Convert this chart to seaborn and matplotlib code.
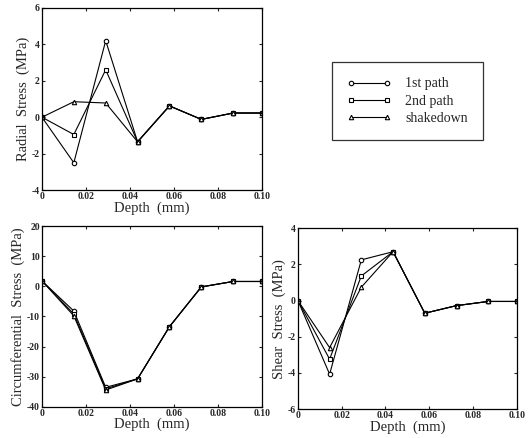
import pandas as pd
import matplotlib
matplotlib.use('Agg')
import matplotlib.pyplot as plt
import seaborn as sns

depth = [0, 0.0145, 0.029, 0.0435, 0.058, 0.0725, 0.087, 0.1]
paths = ['1st path', '2nd path', 'shakedown']

radial_1st = [0, -2.5, 4.2, -1.35, 0.62, -0.12, 0.23, 0.23]
radial_2nd = [0, -0.95, 2.6, -1.35, 0.62, -0.12, 0.23, 0.23]
radial_shake = [0, 0.85, 0.78, -1.35, 0.62, -0.12, 0.23, 0.23]

circ_1st = [1.8, -8.2, -33.5, -30.7, -13.4, -0.2, 1.6, 1.6]
circ_2nd = [1.8, -9.2, -34.0, -30.7, -13.4, -0.2, 1.6, 1.6]
circ_shake = [1.8, -9.8, -34.4, -30.7, -13.4, -0.2, 1.6, 1.6]

shear_1st = [0, -4.07, 2.25, 2.7, -0.7, -0.28, -0.05, -0.05]
shear_2nd = [0, -3.24, 1.36, 2.7, -0.7, -0.28, -0.05, -0.05]
shear_shake = [0, -2.6, 0.74, 2.7, -0.7, -0.28, -0.05, -0.05]

markers = {'1st path': 'o', '2nd path': 's', 'shakedown': '^'}


def make_df(a, b, c):
    rows = []
    for name, vals in zip(paths, [a, b, c]):
        for x, y in zip(depth, vals):
            rows.append({'Depth': x, 'Stress': y, 'path': name})
    return pd.DataFrame(rows)


sns.set_style('ticks')
plt.rcParams['font.family'] = ['Liberation Serif', 'DejaVu Serif']
plt.rcParams['xtick.direction'] = 'in'
plt.rcParams['ytick.direction'] = 'in'

fig = plt.figure(figsize=(5.31, 4.38), dpi=100)
ax1 = fig.add_axes([0.079, 0.566, 0.414, 0.416])
ax2 = fig.add_axes([0.079, 0.071, 0.414, 0.413])
ax3 = fig.add_axes([0.561, 0.066, 0.412, 0.413])


def draw(ax, df, ylim, yticks, ylabel):
    for name in paths:
        sub = df[df.path == name]
        sns.lineplot(x='Depth', y='Stress', data=sub, ax=ax, color='black',
                     marker=markers[name], markersize=3.2, linewidth=0.8,
                     markerfacecolor='white', markeredgecolor='black',
                     markeredgewidth=0.8, label=name, legend=False)
    ax.set_xlim(0, 0.1)
    ax.set_ylim(*ylim)
    ax.set_yticks(yticks)
    ax.set_yticklabels([str(t) for t in yticks])
    ax.set_xticks([0, 0.02, 0.04, 0.06, 0.08, 0.10])
    ax.set_xticklabels(['0', '0.02', '0.04', '0.06', '0.08', '0.10'])
    for lab in ax.get_xticklabels() + ax.get_yticklabels():
        lab.set_fontweight('bold')
        lab.set_fontsize(7)
    ax.tick_params(top=True, right=True, length=2.5, width=0.8, pad=1.5)
    ax.set_xlabel('Depth  (mm)', fontsize=10.5, labelpad=0)
    ax.set_ylabel(ylabel, fontsize=10.5, labelpad=1)
    for s in ax.spines.values():
        s.set_linewidth(0.9)
        s.set_color('black')


draw(ax1, make_df(radial_1st, radial_2nd, radial_shake), (-4, 6),
     [-4, -2, 0, 2, 4, 6], 'Radial  Stress  (MPa)')
draw(ax2, make_df(circ_1st, circ_2nd, circ_shake), (-40, 20),
     [-40, -30, -20, -10, 0, 10, 20], 'Circumferential  Stress  (MPa)')
draw(ax3, make_df(shear_1st, shear_2nd, shear_shake), (-6, 4),
     [-6, -4, -2, 0, 2, 4], 'Shear  Stress  (MPa)')

handles, labels = ax1.get_legend_handles_labels()
leg = fig.legend(handles, labels, loc='upper left',
                 bbox_to_anchor=(0.625, 0.858), numpoints=2,
                 frameon=True, fancybox=False, edgecolor='black',
                 fontsize=10, handlelength=3.2, borderpad=1.1,
                 labelspacing=0.3, handletextpad=1.0, borderaxespad=0)
leg.get_frame().set_linewidth(0.9)

fig.savefig('out.png', dpi=100)
